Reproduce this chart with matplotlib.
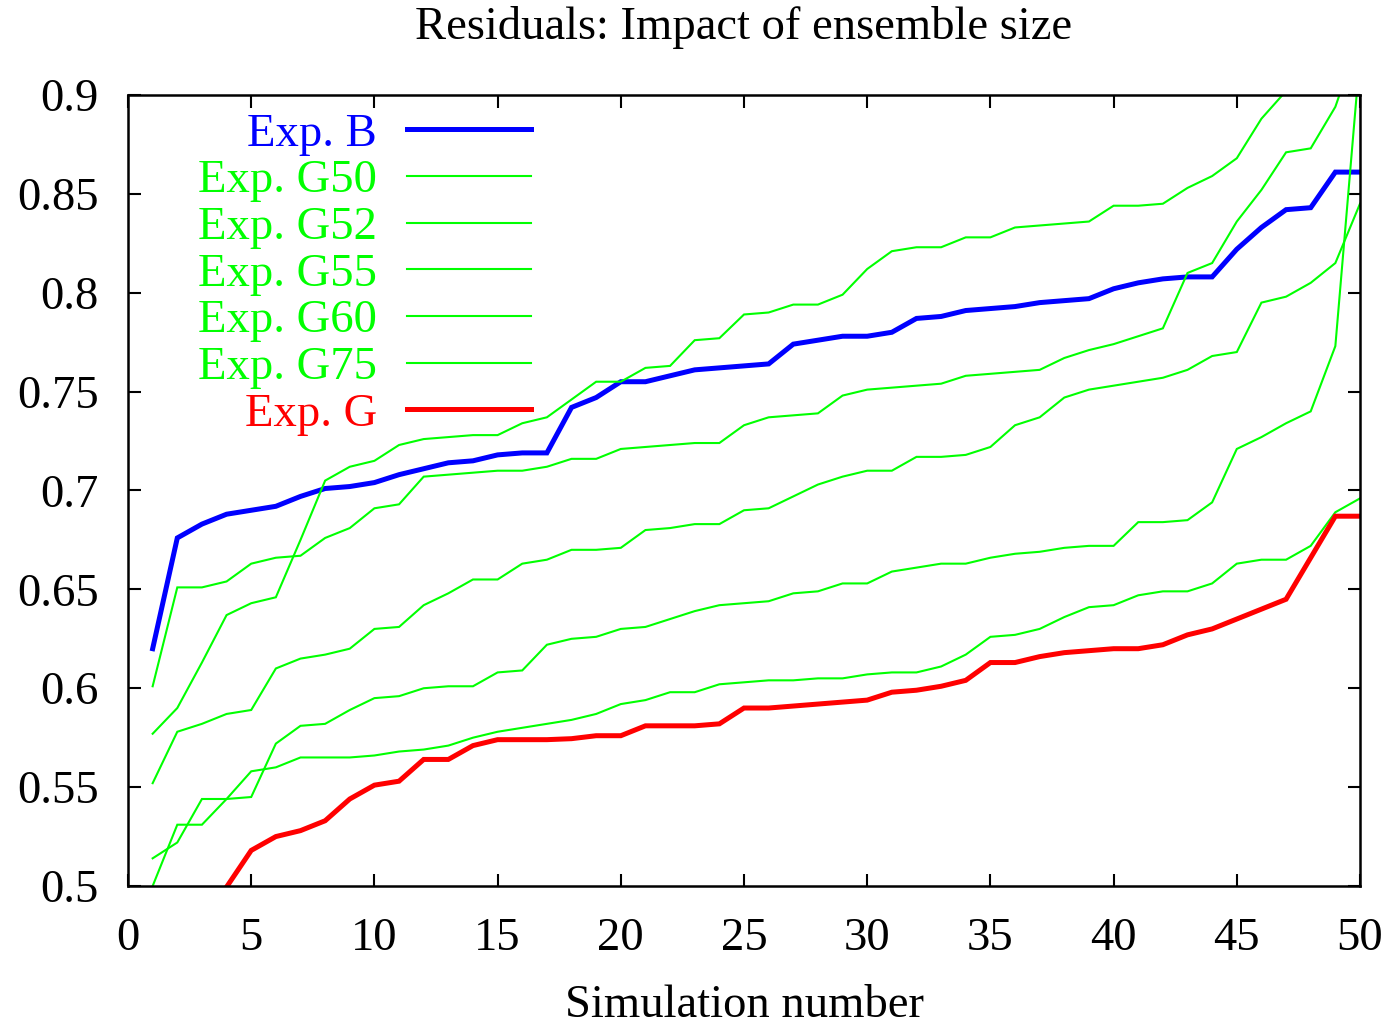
import matplotlib
matplotlib.use("Agg")
import matplotlib.pyplot as plt
import numpy as np

plt.rcParams['font.family'] = ['Liberation Serif', 'DejaVu Serif']

# Simulation index (sorted residuals per experiment)
sim = np.arange(1, 51)

exp_b = [0.620, 0.676, 0.683, 0.688, 0.690, 0.692, 0.697, 0.701, 0.702, 0.704,
         0.708, 0.711, 0.714, 0.715, 0.718, 0.719, 0.719, 0.742, 0.747, 0.755,
         0.755, 0.758, 0.761, 0.762, 0.763, 0.764, 0.774, 0.776, 0.778, 0.778,
         0.780, 0.787, 0.788, 0.791, 0.792, 0.793, 0.795, 0.796, 0.797, 0.802,
         0.805, 0.807, 0.808, 0.808, 0.822, 0.833, 0.842, 0.843, 0.861, 0.861]

exp_g50 = [0.601, 0.651, 0.651, 0.654, 0.663, 0.666, 0.667, 0.676, 0.681, 0.691,
           0.693, 0.707, 0.708, 0.709, 0.710, 0.710, 0.712, 0.716, 0.716, 0.721,
           0.722, 0.723, 0.724, 0.724, 0.733, 0.737, 0.738, 0.739, 0.748, 0.751,
           0.752, 0.753, 0.754, 0.758, 0.759, 0.760, 0.761, 0.767, 0.771, 0.774,
           0.778, 0.782, 0.810, 0.815, 0.836, 0.852, 0.871, 0.873, 0.894, 0.930]

exp_g52 = [0.577, 0.590, 0.613, 0.637, 0.643, 0.646, 0.675, 0.705, 0.712, 0.715,
           0.723, 0.726, 0.727, 0.728, 0.728, 0.734, 0.737, 0.746, 0.755, 0.755,
           0.762, 0.763, 0.776, 0.777, 0.789, 0.790, 0.794, 0.794, 0.799, 0.812,
           0.821, 0.823, 0.823, 0.828, 0.828, 0.833, 0.834, 0.835, 0.836, 0.844,
           0.844, 0.845, 0.853, 0.859, 0.868, 0.888, 0.902, 0.920, 0.930, 0.950]

exp_g55 = [0.552, 0.578, 0.582, 0.587, 0.589, 0.610, 0.615, 0.617, 0.620, 0.630,
           0.631, 0.642, 0.648, 0.655, 0.655, 0.663, 0.665, 0.670, 0.670, 0.671,
           0.680, 0.681, 0.683, 0.683, 0.690, 0.691, 0.697, 0.703, 0.707, 0.710,
           0.710, 0.717, 0.717, 0.718, 0.722, 0.733, 0.737, 0.747, 0.751, 0.753,
           0.755, 0.757, 0.761, 0.768, 0.770, 0.795, 0.798, 0.805, 0.815, 0.845]

exp_g60 = [0.514, 0.522, 0.544, 0.544, 0.545, 0.572, 0.581, 0.582, 0.589, 0.595,
           0.596, 0.600, 0.601, 0.601, 0.608, 0.609, 0.622, 0.625, 0.626, 0.630,
           0.631, 0.635, 0.639, 0.642, 0.643, 0.644, 0.648, 0.649, 0.653, 0.653,
           0.659, 0.661, 0.663, 0.663, 0.666, 0.668, 0.669, 0.671, 0.672, 0.672,
           0.684, 0.684, 0.685, 0.694, 0.721, 0.727, 0.734, 0.740, 0.773, 0.920]

exp_g75 = [0.500, 0.531, 0.531, 0.544, 0.558, 0.560, 0.565, 0.565, 0.565, 0.566,
           0.568, 0.569, 0.571, 0.575, 0.578, 0.580, 0.582, 0.584, 0.587, 0.592,
           0.594, 0.598, 0.598, 0.602, 0.603, 0.604, 0.604, 0.605, 0.605, 0.607,
           0.608, 0.608, 0.611, 0.617, 0.626, 0.627, 0.630, 0.636, 0.641, 0.642,
           0.647, 0.649, 0.649, 0.653, 0.663, 0.665, 0.665, 0.672, 0.689, 0.696]

exp_g = [0.420, 0.460, 0.480, 0.4995, 0.518, 0.525, 0.528, 0.533, 0.544, 0.551,
         0.553, 0.564, 0.564, 0.571, 0.574, 0.574, 0.574, 0.5745, 0.576, 0.576,
         0.581, 0.581, 0.581, 0.582, 0.590, 0.590, 0.591, 0.592, 0.593, 0.594,
         0.598, 0.599, 0.601, 0.604, 0.613, 0.613, 0.616, 0.618, 0.619, 0.620,
         0.620, 0.622, 0.627, 0.630, 0.635, 0.640, 0.645, 0.666, 0.687, 0.687]

series = [
    ("Exp. B", exp_b, "#0000ff", 3.6),
    ("Exp. G50", exp_g50, "#00ff00", 1.5),
    ("Exp. G52", exp_g52, "#00ff00", 1.5),
    ("Exp. G55", exp_g55, "#00ff00", 1.5),
    ("Exp. G60", exp_g60, "#00ff00", 1.5),
    ("Exp. G75", exp_g75, "#00ff00", 1.5),
    ("Exp. G", exp_g, "#ff0000", 3.6),
]

FS = 33.6

fig = plt.figure(figsize=(13.93, 10.30), dpi=100)
ax = fig.add_axes([0.0919, 0.1398, 0.8844, 0.7680])

for label, vals, color, lw in series:
    ax.plot(sim, vals, color=color, lw=lw, label=label, solid_joinstyle='miter')

ax.set_xlim(0, 50)
ax.set_ylim(0.5, 0.9)
ax.set_xticks(np.arange(0, 51, 5))
ax.set_yticks(np.arange(0.5, 0.901, 0.05))
ax.set_yticklabels(["0.5", "0.55", "0.6", "0.65", "0.7", "0.75", "0.8", "0.85", "0.9"])

ax.tick_params(axis='both', direction='in', length=9, width=1.5,
               top=True, right=True, labelsize=FS)
ax.tick_params(axis='y', pad=21)
ax.tick_params(axis='x', pad=23)
for sp in ax.spines.values():
    sp.set_linewidth(1.8)

ax.set_title("Residuals: Impact of ensemble size", fontsize=FS, pad=40)
ax.set_xlabel("Simulation number", fontsize=FS, labelpad=17)

leg = ax.legend(loc='upper right', bbox_to_anchor=(0.327, 0.977), frameon=False,
                markerfirst=False, labelcolor='linecolor', fontsize=FS,
                handlelength=2.65, handletextpad=0.65, labelspacing=0.085,
                borderaxespad=0.0, borderpad=0.0)
for t in leg.get_texts():
    t.set_ha('right')

fig.savefig("out.png", dpi=100)
